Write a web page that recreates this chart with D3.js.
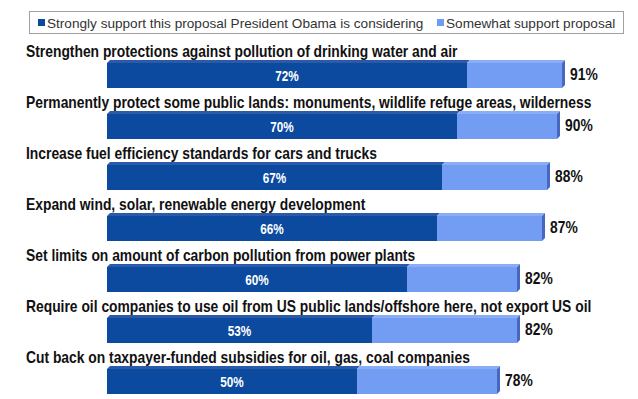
<!DOCTYPE html>
<html>
<head>
<meta charset="utf-8">
<script src="https://cdn.jsdelivr.net/npm/d3@7"></script>
<style>
  body { margin: 0; background: #fff; }
  svg { display: block; font-family: "Liberation Sans", Arial, sans-serif; }
</style>
</head>
<body>
<div id="chart"></div>
<script>

// data
var categories = [
  "Strengthen protections against pollution of drinking water and air",
  "Permanently protect some public lands: monuments, wildlife refuge areas, wilderness",
  "Increase fuel efficiency standards for cars and trucks",
  "Expand wind, solar, renewable energy development",
  "Set limits on amount of carbon pollution from power plants",
  "Require oil companies to use oil from US public lands/offshore here, not export US oil",
  "Cut back on taxpayer-funded subsidies for oil, gas, coal companies"
];
var strongly = [72, 70, 67, 66, 60, 53, 50];
var total = [91, 90, 88, 87, 82, 82, 78];
var seriesNames = ["Strongly support this proposal President Obama is considering", "Somewhat support proposal"];

var width = 638, height = 399;
var depth = 3, barH = 25;
var squeeze = 0.84; // labels look like a narrow face

var svg = d3.select("#chart")
  .append("svg")
    .attr("width", width)
    .attr("height", height);

var x = d3.scaleLinear()
  .domain([0, 100])
  .range([107, 607]);

var y = d3.scaleBand()
  .domain(categories)
  .range([44, 44 + 51 * categories.length]);

var data = categories.map(function(c, i) {
  return {cat: c, strong: strongly[i], total: total[i]};
});

// legend
var legend = svg.append("g");
legend.append("rect")
  .attr("x", 29.5).attr("y", 11.5)
  .attr("width", 594).attr("height", 22)
  .attr("fill", "#fff")
  .attr("stroke", "#a0a0a0");

var legX = [38, 437];
var legCol = ["#0b4a9f", "#6f9bf0"];
seriesNames.forEach(function(s, i) {
  legend.append("rect")
    .attr("x", legX[i]).attr("y", 19)
    .attr("width", 7).attr("height", 7)
    .attr("fill", legCol[i]);
  legend.append("text")
    .attr("x", legX[i] + 9).attr("y", 27.5)
    .attr("font-size", 13.6)
    .attr("fill", "#333")
    .text(s);
});

var rows = svg.selectAll("g.row")
  .data(data)
  .enter()
  .append("g")
    .attr("class", "row")
    .attr("transform", function(d) { return "translate(0," + y(d.cat) + ")"; });

// category labels
rows.append("text")
  .attr("transform", "translate(26,13) scale(" + squeeze + ",1)")
  .attr("font-size", 16.5)
  .attr("font-weight", "bold")
  .attr("fill", "#111")
  .text(function(d) { return d.cat; });

var top0 = 19;

// top faces
rows.append("path")
  .attr("fill", "#2a5aa8")
  .attr("d", function(d) {
    var a = x(0), b = x(d.strong);
    return "M" + a + "," + top0 + "L" + (a + depth) + "," + (top0 - depth) +
      "L" + (b + depth) + "," + (top0 - depth) + "L" + b + "," + top0 + "Z";
  });
rows.append("path")
  .attr("fill", "#8aaef5")
  .attr("d", function(d) {
    var a = x(d.strong), b = x(d.total);
    return "M" + a + "," + top0 + "L" + (a + depth) + "," + (top0 - depth) +
      "L" + (b + depth) + "," + (top0 - depth) + "L" + b + "," + top0 + "Z";
  });
// right side face
rows.append("path")
  .attr("fill", "#4768c0")
  .attr("d", function(d) {
    var b = x(d.total);
    return "M" + b + "," + top0 + "L" + (b + depth) + "," + (top0 - depth) +
      "L" + (b + depth) + "," + (top0 + barH - depth) + "L" + b + "," + (top0 + barH) + "Z";
  });

// front faces
rows.append("rect")
  .attr("x", function(d) { return x(d.strong); })
  .attr("y", top0)
  .attr("width", function(d) { return x(d.total) - x(d.strong); })
  .attr("height", barH)
  .attr("fill", "#729df2");
rows.append("rect")
  .attr("x", x(0))
  .attr("y", top0)
  .attr("width", function(d) { return x(d.strong) - x(0); })
  .attr("height", barH)
  .attr("fill", "#0b4a9f");

// inner labels
rows.append("text")
  .attr("transform", function(d) {
    return "translate(" + (x(0) + x(d.strong)) / 2 + "," + (top0 + barH / 2 + 5) + ") scale(" + squeeze + ",1)";
  })
  .attr("text-anchor", "middle")
  .attr("font-size", 14)
  .attr("font-weight", "bold")
  .attr("fill", "#fff")
  .text(function(d) { return d.strong + "%"; });

// totals
rows.append("text")
  .attr("transform", function(d) {
    return "translate(" + (x(d.total) + depth + 5) + "," + (top0 + barH / 2 + 4) + ") scale(" + squeeze + ",1)";
  })
  .attr("font-size", 16.5)
  .attr("font-weight", "bold")
  .attr("fill", "#111")
  .text(function(d) { return d.total + "%"; });

</script>
</body>
</html>
